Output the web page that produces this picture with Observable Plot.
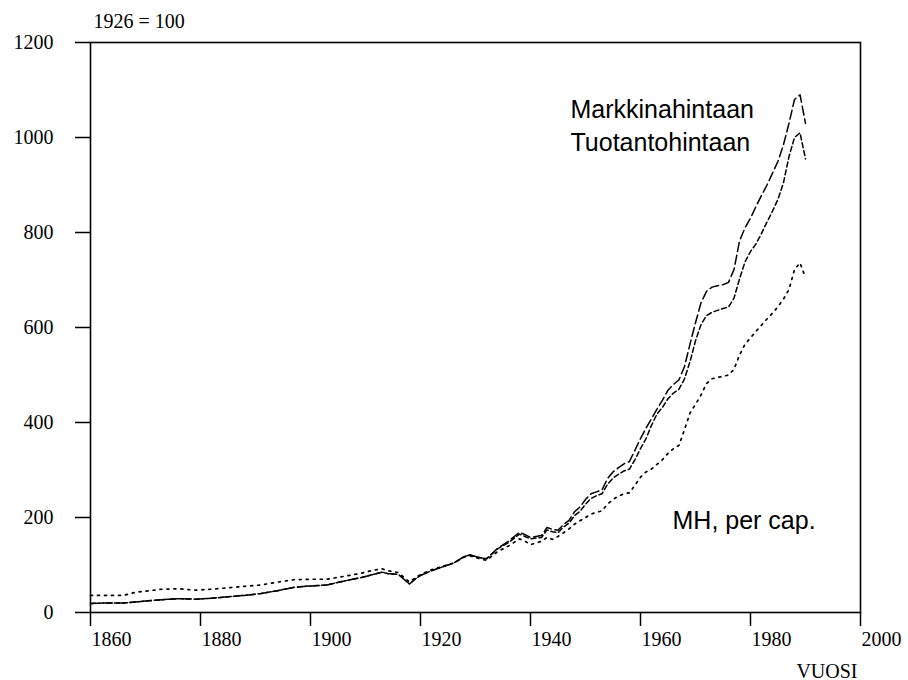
<!DOCTYPE html>
<html>
<head>
<meta charset="utf-8">
<script src="https://cdn.jsdelivr.net/npm/d3@7"></script>
<script src="https://cdn.jsdelivr.net/npm/@observablehq/plot@0.6"></script>
<style>
  html, body { margin: 0; padding: 0; background: #fff; }
  #chart { width: 908px; height: 680px; }
</style>
</head>
<body>
<div id="chart"></div>
<script>
const years = [1860,1863,1866,1868,1870,1873,1876,1879,1882,1885,1888,1891,1894,1897,1900,1903,1906,1909,1911,1913,1914,1916,1917,1918,1919,1920,1922,1924,1926,1928,1929,1930,1931,1932,1934,1936,1938,1939,1940,1941,1942,1943,1944,1945,
  1946,1947,1948,1949,1950,1951,1952,1953,1954,1955,1956,1957,1958,1959,1960,1961,1962,1963,1964,1965,1966,1967,1968,1969,1970,1971,1972,1973,1974,1975,1976,1977,1978,1979,1980,1981,1982,1983,1984,1985,1986,1987,1988,1989,1990];

const markkinahintaan = [19,20,20,22,24,27,29,28,30,33,36,40,46,53,56,58,66,73,79,85,82,80,70,60,70,78,88,96,104,118,121,118,115,113,135,150,169,164,158,160,162,179,175,173,
  185,194,212,222,238,250,254,258,282,296,305,313,318,342,366,388,408,428,447,468,480,490,518,565,610,652,676,685,688,690,695,722,782,810,830,855,878,900,925,950,985,1030,1080,1090,1030];

const tuotantohintaan = [19,20,20,22,24,27,29,28,30,33,36,40,46,53,56,58,66,73,79,85,82,80,70,60,70,78,88,96,104,118,121,118,115,113,134,147,165,160,155,157,158,174,170,168,
  180,188,204,213,228,240,246,250,270,283,291,298,302,322,345,366,394,418,432,450,462,470,492,528,572,606,625,632,636,640,643,662,702,738,760,776,798,822,845,870,905,960,1000,1010,955];

const perCap = [36,36,36,42,45,49,50,47,49,52,55,58,64,69,70,70,76,82,88,92,88,84,74,64,73,80,90,97,104,117,119,116,112,110,128,140,155,150,143,146,150,158,154,160,
  168,176,186,193,200,207,211,214,228,238,245,250,252,268,285,296,302,312,322,335,345,352,385,420,438,458,482,492,495,497,500,512,542,565,578,592,605,618,630,644,660,680,722,736,705];

const yTicks = [0,200,400,600,800,1000,1200];
const xTicks = [1860,1880,1900,1920,1940,1960,1980,2000];

const seriesLabels = ["Markkinahintaan", "Tuotantohintaan", "MH, per cap."];
const indexLabel = "1926 = 100";
const xLabel = "VUOSI";

const rowsM = years.map((y, i) => ({year: y, value: markkinahintaan[i]}));
const rowsT = years.map((y, i) => ({year: y, value: tuotantohintaan[i]}));
const rowsP = years.map((y, i) => ({year: y, value: perCap[i]}));

const sans = "'Liberation Sans', Arial, sans-serif";

const chart = Plot.plot({
  width: 908,
  height: 680,
  marginLeft: 90,
  marginRight: 48,
  marginTop: 42,
  marginBottom: 68,
  style: {
    fontFamily: "'Liberation Serif', 'Times New Roman', serif",
    fontSize: "20px",
    background: "white",
    color: "black",
    overflow: "visible"
  },
  x: {domain: [1860, 2000]},
  y: {domain: [0, 1200]},
  marks: [
    Plot.frame({stroke: "black", strokeWidth: 1.6}),
    Plot.axisY({ticks: yTicks, tickSize: 15, text: null, label: null, strokeWidth: 1.5}),
    Plot.axisX({ticks: xTicks, tickSize: 14, text: null, label: null, strokeWidth: 1.5}),
    Plot.text(yTicks, {y: d => d, frameAnchor: "left", dx: -37, textAnchor: "end", text: d => String(d), fontSize: 20}),
    Plot.text(xTicks, {x: d => d, frameAnchor: "bottom", dx: 1, dy: 19, textAnchor: "start", lineAnchor: "top", text: d => String(d), fontSize: 20}),
    Plot.line(rowsM, {x: "year", y: "value", stroke: "black", strokeWidth: 1.5, strokeDasharray: "9,4"}),
    Plot.line(rowsT, {x: "year", y: "value", stroke: "black", strokeWidth: 1.5, strokeDasharray: "5,3"}),
    Plot.line(rowsP, {x: "year", y: "value", stroke: "black", strokeWidth: 1.7, strokeDasharray: "2,5"}),
    Plot.text([indexLabel], {frameAnchor: "top-left", dx: 3, dy: -15, textAnchor: "start", lineAnchor: "bottom", fontSize: 20}),
    Plot.text([xLabel], {frameAnchor: "bottom-right", dx: -3, dy: 65, textAnchor: "end", lineAnchor: "bottom", fontSize: 20}),
    Plot.text([seriesLabels[0]], {frameAnchor: "top-left", dx: 480, dy: 75, textAnchor: "start", lineAnchor: "bottom", fontSize: 25, fontFamily: sans}),
    Plot.text([seriesLabels[1]], {frameAnchor: "top-left", dx: 480, dy: 108, textAnchor: "start", lineAnchor: "bottom", fontSize: 25, fontFamily: sans}),
    Plot.text([seriesLabels[2]], {frameAnchor: "top-left", dx: 582, dy: 486, textAnchor: "start", lineAnchor: "bottom", fontSize: 25, fontFamily: sans})
  ]
});
document.getElementById("chart").appendChild(chart);
</script>
</body>
</html>
